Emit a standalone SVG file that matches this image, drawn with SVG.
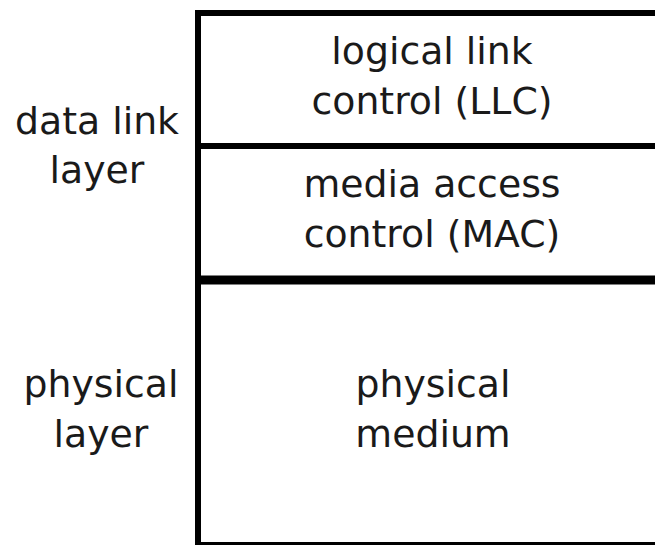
<svg xmlns="http://www.w3.org/2000/svg" width="655" height="545" viewBox="0 0 655 545">
<style>
text{font-family:"DejaVu Sans",sans-serif;font-size:37.8px;fill:#1a1a1a;text-anchor:middle}
.ln{stroke:#000;fill:none}
</style>
<rect width="655" height="545" fill="#fff"/>
<g id="connectors">
<line class="ln" x1="198" y1="10" x2="198" y2="545" stroke-width="6"/>
<line class="ln" x1="195" y1="13" x2="655" y2="13" stroke-width="6"/>
<line class="ln" x1="198" y1="146" x2="655" y2="146" stroke-width="6"/>
<line class="ln" x1="198" y1="280" x2="655" y2="280" stroke-width="9"/>
<line class="ln" x1="198" y1="545" x2="655" y2="545" stroke-width="6"/>
</g>
<g id="llc"><text x="432" y="64">logical link</text><text x="432" y="114">control (LLC)</text></g>
<g id="mac"><text x="432" y="197">media access</text><text x="432" y="247">control (MAC)</text></g>
<g id="medium"><text x="433" y="397">physical</text><text x="433" y="447">medium</text></g>
<g id="datalink"><text x="97" y="134">data link</text><text x="97" y="183">layer</text></g>
<g id="physical"><text x="101" y="397">physical</text><text x="101" y="447">layer</text></g>
</svg>
